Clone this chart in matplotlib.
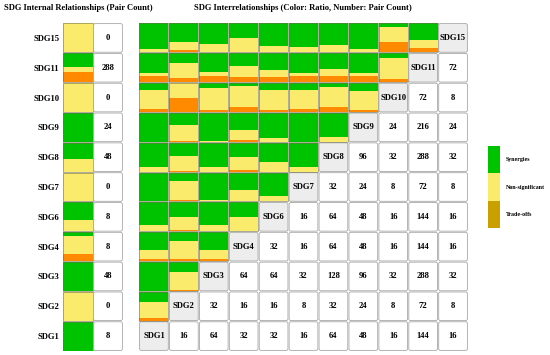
import matplotlib
matplotlib.use("Agg")
import matplotlib.pyplot as plt
from matplotlib.patches import FancyBboxPatch

plt.rcParams['font.family'] = ['Liberation Serif', 'DejaVu Serif']
plt.rcParams['font.weight'] = 'bold'

# SDG order, bottom (index 0) to top
sdgs = ['SDG1', 'SDG2', 'SDG3', 'SDG4', 'SDG6', 'SDG7', 'SDG8', 'SDG9', 'SDG10', 'SDG11', 'SDG15']

# internal relationships (left panel)
internal_count = [8, 0, 48, 8, 8, 0, 48, 24, 0, 288, 0]
internal_syn = [1.00, 0.00, 1.00, 0.12, 0.62, 0.00, 0.57, 1.00, 0.00, 0.49, 0.00]
internal_non = [0.00, 1.00, 0.00, 0.63, 0.38, 1.00, 0.43, 0.00, 1.00, 0.16, 1.00]
internal_trade = [0.00, 0.00, 0.00, 0.25, 0.00, 0.00, 0.00, 0.00, 0.00, 0.35, 0.00]

# ratios between SDG row i and SDG columns j < i
syn_ratio = [
    [],
    [0.36],
    [1.00, 0.35],
    [0.61, 0.30, 0.60],
    [0.80, 0.52, 0.80, 0.52],
    [1.00, 0.30, 0.96, 0.62, 0.80],
    [0.83, 0.45, 0.83, 0.48, 0.68, 0.83],
    [1.00, 0.41, 0.97, 0.59, 0.87, 1.00, 0.82],
    [0.23, 0.00, 0.17, 0.11, 0.23, 0.23, 0.15, 0.26],
    [0.69, 0.34, 0.66, 0.43, 0.57, 0.69, 0.55, 0.69, 0.15],
    [0.90, 0.63, 0.70, 0.52, 0.77, 0.80, 0.75, 0.88, 0.12, 0.57],
]
non_ratio = [
    [],
    [0.56],
    [0.00, 0.62],
    [0.33, 0.62, 0.33],
    [0.20, 0.42, 0.20, 0.48],
    [0.00, 0.66, 0.04, 0.35, 0.20],
    [0.17, 0.52, 0.17, 0.48, 0.32, 0.17],
    [0.00, 0.55, 0.03, 0.36, 0.13, 0.00, 0.18],
    [0.66, 0.52, 0.75, 0.73, 0.69, 0.66, 0.69, 0.66],
    [0.08, 0.52, 0.11, 0.38, 0.26, 0.08, 0.25, 0.08, 0.74],
    [0.10, 0.28, 0.30, 0.48, 0.23, 0.20, 0.25, 0.12, 0.52, 0.29],
]
trade_ratio = [
    [],
    [0.08],
    [0.00, 0.03],
    [0.06, 0.08, 0.07],
    [0.00, 0.06, 0.00, 0.00],
    [0.00, 0.04, 0.00, 0.03, 0.00],
    [0.00, 0.03, 0.00, 0.04, 0.00, 0.00],
    [0.00, 0.04, 0.00, 0.05, 0.00, 0.00, 0.00],
    [0.11, 0.48, 0.08, 0.16, 0.08, 0.11, 0.16, 0.08],
    [0.23, 0.14, 0.23, 0.19, 0.17, 0.23, 0.20, 0.23, 0.11],
    [0.00, 0.09, 0.00, 0.00, 0.00, 0.00, 0.00, 0.00, 0.36, 0.14],
]

# pair counts between SDG row i and SDG columns j > i
pair_count = [
    [16, 64, 32, 32, 16, 64, 48, 16, 144, 16],
    [32, 16, 16, 8, 32, 24, 8, 72, 8],
    [64, 64, 32, 128, 96, 32, 288, 32],
    [32, 16, 64, 48, 16, 144, 16],
    [16, 64, 48, 16, 144, 16],
    [32, 24, 8, 72, 8],
    [96, 32, 288, 32],
    [24, 216, 24],
    [72, 8],
    [72],
    [],
]

legend_labels = ['Synergies', 'Non-significant', 'Trade-offs']

GREEN = '#00c300'
YELLOW = '#fbeb6c'
ORANGE = '#ff8a00'
TRADE_LEG = '#c9a000'
H = 0.97  # cell height
FS = 6.2

W, HGT = 550, 355
fig = plt.figure(figsize=(W / 100, HGT / 100), dpi=100)

n = len(sdgs)
ax = fig.add_axes([139 / W, 4 / HGT, 329 / W, 328 / HGT])
axl = fig.add_axes([63 / W, 4 / HGT, 60 / W, 328 / HGT])
for a in (ax, axl):
    a.set_ylim(-0.5, n - 0.5)
    for s in a.spines.values():
        s.set_visible(False)
    a.tick_params(length=0)
    a.set_xticks([])
ax.set_xlim(-0.5, n - 0.5)
ax.set_yticks([])
axl.set_xlim(-0.5, 1.5)
axl.set_yticks(range(n))
axl.set_yticklabels(sdgs, fontsize=FS, fontweight='bold')
axl.tick_params(axis='y', pad=2.5)


def stacked(a, xs, ys, syn, non, trade):
    base = [y - H / 2 for y in ys]
    a.bar(xs, [t * H for t in trade], bottom=base, width=H, color=ORANGE, lw=0)
    b2 = [b + t * H for b, t in zip(base, trade)]
    a.bar(xs, [v * H for v in non], bottom=b2, width=H, color=YELLOW, lw=0)
    b3 = [b + v * H for b, v in zip(b2, non)]
    a.bar(xs, [s * H for s in syn], bottom=b3, width=H, color=GREEN, lw=0)
    a.bar(xs, [H] * len(xs), bottom=base, width=H, fill=False,
          edgecolor='#6f6f50', lw=0.4)


def num_cell(a, x, y, text, face):
    p = FancyBboxPatch((x - 0.45, y - 0.45), 0.90, 0.90,
                       boxstyle='round,pad=0.03,rounding_size=0.06',
                       fc=face, ec='#a8a8a8', lw=0.6)
    a.add_patch(p)
    a.text(x, y, text, ha='center', va='center', fontsize=FS, fontweight='bold')


# left panel
stacked(axl, [0] * n, list(range(n)), internal_syn, internal_non, internal_trade)
for i in range(n):
    num_cell(axl, 1, i, str(internal_count[i]), 'white')

# main matrix
for i in range(n):
    if i > 0:
        stacked(ax, list(range(i)), [i] * i, syn_ratio[i], non_ratio[i], trade_ratio[i])
    num_cell(ax, i, i, sdgs[i], '#ededed')
    for k, c in enumerate(pair_count[i]):
        num_cell(ax, i + 1 + k, i, str(c), 'white')

# legend
axg = fig.add_axes([486 / W, (HGT - 228) / HGT, 16 / W, 82 / HGT])
axg.set_xlim(0, 1)
axg.set_ylim(0, 3)
axg.axis('off')
leg_colors = [GREEN, YELLOW, TRADE_LEG]
for k, (lab, col) in enumerate(zip(legend_labels, leg_colors)):
    axg.bar(0.5, 1, bottom=2 - k, width=0.75, color=col, lw=0)
    axg.text(1.25, 2.5 - k, lab, ha='left', va='center', fontsize=4.3, fontweight='bold')

fig.text(78 / W, 1 - 8 / HGT, 'SDG Internal Relationships (Pair Count)',
         ha='center', va='center', fontsize=6.1, fontweight='bold')
fig.text(303 / W, 1 - 8 / HGT, 'SDG Interrelationships (Color: Ratio, Number: Pair Count)',
         ha='center', va='center', fontsize=6.1, fontweight='bold')

fig.savefig('out.png', dpi=100)
